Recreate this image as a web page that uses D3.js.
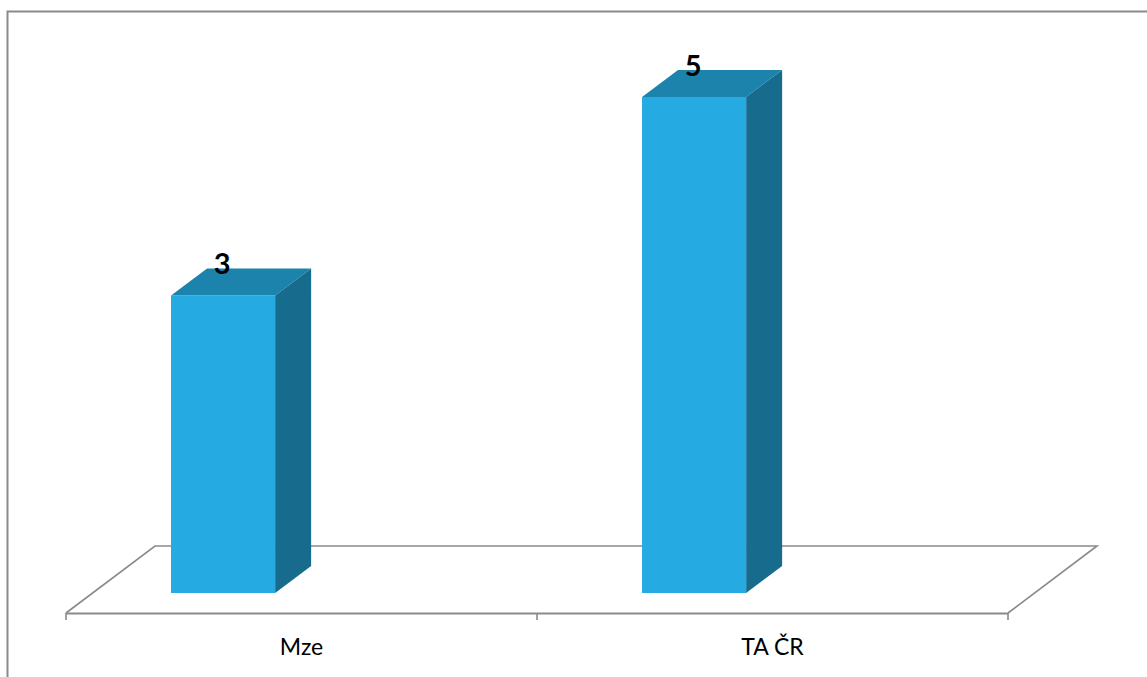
<!DOCTYPE html>
<html>
<head>
<meta charset="utf-8">
<script src="https://cdn.jsdelivr.net/npm/d3@7"></script>
<style>
  html, body { margin: 0; padding: 0; background: #fff; }
  svg { display: block; }
</style>
</head>
<body>
<svg id="chart" width="1147" height="677"></svg>
<script>
const categories = ["Mze", "TA ČR"];
const values = [3, 5];

const svg = d3.select("#chart");
const W = 1147, H = 677;

// outer frame
svg.append("rect")
  .attr("x", 7.5).attr("y", 11.5)
  .attr("width", 1160).attr("height", 700)
  .attr("fill", "#fff")
  .attr("stroke", "#8a8a8a").attr("stroke-width", 2);

const floorFront = 613, floorDx = 89, floorDy = 67;
const x = d3.scaleBand().domain(categories).range([66, 1008]).paddingInner(0).paddingOuter(0);
const y = d3.scaleLinear().domain([0, 5]).range([593, 97]);

const depthDx = 36, depthDy = 27;

// floor
const x0 = x.range()[0], x1 = x.range()[1];
svg.append("path")
  .attr("d", `M${x0},${floorFront} L${x0 + floorDx},${floorFront - floorDy} L${x1 + floorDx},${floorFront - floorDy} L${x1},${floorFront}`)
  .attr("fill", "none").attr("stroke", "#8a8a8a").attr("stroke-width", 1.6);

// x axis
const axis = d3.axisBottom(x).tickSize(0).tickPadding(0).tickFormat("");
const gx = svg.append("g").attr("transform", `translate(0,${floorFront})`).call(axis);
gx.select(".domain").attr("stroke", "#8a8a8a").attr("stroke-width", 2);
gx.selectAll(".tick").remove();
// tick marks at band boundaries
const bounds = categories.map(c => x(c)).concat([x1]);
gx.selectAll("line.tk").data(bounds).join("line")
  .attr("class", "tk")
  .attr("x1", d => d).attr("x2", d => d)
  .attr("y1", 0).attr("y2", 7)
  .attr("stroke", "#8a8a8a").attr("stroke-width", 1.6);
gx.selectAll("text.cat").data(categories).join("text")
  .attr("class", "cat")
  .attr("x", d => x(d) + x.bandwidth() / 2)
  .attr("y", 42)
  .attr("text-anchor", "middle")
  .attr("font-family", "Lato, 'Open Sans', sans-serif")
  .attr("font-size", 23)
  .attr("fill", "#000")
  .text(d => d);

// bars
const barOff = 0.223, barW = 0.221;
const bars = svg.append("g");
categories.forEach((c, i) => {
  const bx = x(c) + x.bandwidth() * barOff;
  const bw = x.bandwidth() * barW;
  const top = y(values[i]), base = y(0);
  // top face
  bars.append("path")
    .attr("d", `M${bx},${top} L${bx + depthDx},${top - depthDy} L${bx + bw + depthDx},${top - depthDy} L${bx + bw},${top} Z`)
    .attr("fill", "#1c83ad");
  // side face
  bars.append("path")
    .attr("d", `M${bx + bw},${top} L${bx + bw + depthDx},${top - depthDy} L${bx + bw + depthDx},${base - depthDy} L${bx + bw},${base} Z`)
    .attr("fill", "#176c8e");
  // front face
  bars.append("rect")
    .attr("x", bx).attr("y", top)
    .attr("width", bw).attr("height", base - top)
    .attr("fill", "#25aae1");
  // label
  bars.append("text")
    .attr("x", bx + bw / 2 - 1)
    .attr("y", top - 21)
    .attr("text-anchor", "middle")
    .attr("font-family", "Lato, 'Open Sans', sans-serif")
    .attr("font-weight", "bold")
    .attr("font-size", 29)
    .attr("fill", "#000")
    .text(values[i]);
});
</script>
</body>
</html>
